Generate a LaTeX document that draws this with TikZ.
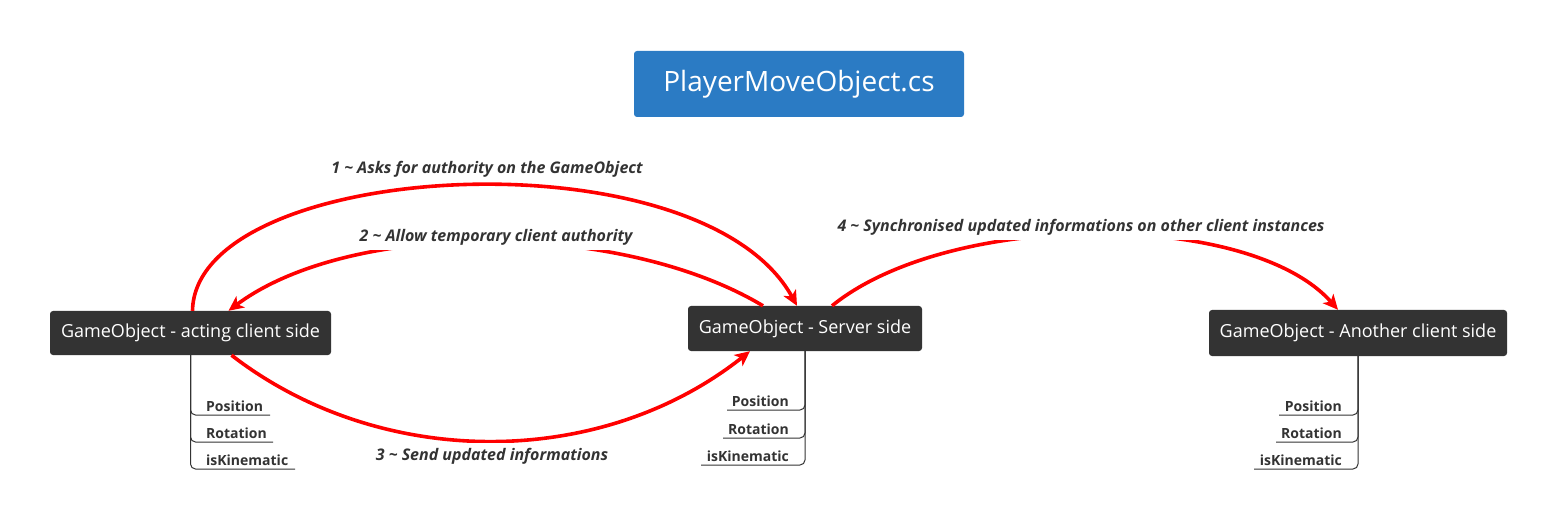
\documentclass[tikz,border=0pt]{standalone}
\usepackage{fontspec}
\setmainfont{Open Sans}
\usetikzlibrary{arrows.meta}
\definecolor{boxdark}{HTML}{333333}
\definecolor{titleblue}{HTML}{2B7BC4}
\definecolor{txtdark}{HTML}{333333}
\definecolor{arrred}{HTML}{FF0000}
\tikzset{
  gobox/.style={fill=boxdark, text=white, rounded corners=3pt, inner sep=0pt,
    font=\fontsize{18}{20}\selectfont},
  titlebox/.style={fill=titleblue, text=white, rounded corners=3pt, inner sep=0pt,
    minimum width=330, minimum height=66, font=\fontsize{28}{32}\selectfont},
  item/.style={text=txtdark, inner sep=1pt, font=\bfseries\fontsize{14}{16}\selectfont},
  branch/.style={draw=boxdark, line width=1pt, rounded corners=5pt},
  flow/.style={draw=arrred, line width=3.6pt, -{Stealth[length=15pt,width=14pt,inset=4pt]}},
  flowlabel/.style={text=txtdark, fill=white, inner xsep=4pt, inner ysep=5pt,
    font=\bfseries\itshape\fontsize{16}{18}\selectfont},
}
\begin{document}
\begin{tikzpicture}[x=1pt,y=-1pt]
\useasboundingbox (0,0) rectangle (1558,521);
% nodes
\node[titlebox] (T) at (799,84) {PlayerMoveObject.cs};
\node[gobox, minimum width=281, minimum height=44] (A) at (190.5,333) {GameObject - acting client side};
\node[gobox, minimum width=234, minimum height=45] (B) at (805,328.5) {GameObject - Server side};
\node[gobox, minimum width=298, minimum height=46] (C) at (1358,333) {GameObject - Another client side};

% items of A
\coordinate (a1) at (270,415);
\coordinate (a2) at (273,442);
\coordinate (a3) at (295,469);
\node[item, anchor=south west] (ap) at (205,413) {Position};
\node[item, anchor=south west] (ar) at (205,440) {Rotation};
\node[item, anchor=south west] (ak) at (205,467) {isKinematic};
\draw[branch] (A.south) |- (a1);
\draw[branch] (A.south) |- (a2);
\draw[branch] (A.south) |- (a3);

% items of B
\coordinate (b1) at (727,410);
\coordinate (b2) at (723,438);
\coordinate (b3) at (701,465);
\node[item, anchor=south east] (bp) at (790,408) {Position};
\node[item, anchor=south east] (br) at (790,436) {Rotation};
\node[item, anchor=south east] (bk) at (790,463) {isKinematic};
\draw[branch] (B.south) |- (b1);
\draw[branch] (B.south) |- (b2);
\draw[branch] (B.south) |- (b3);

% items of C
\coordinate (c1) at (1279,415);
\coordinate (c2) at (1276,442);
\coordinate (c3) at (1254,469);
\node[item, anchor=south east] (cp) at (1343,413) {Position};
\node[item, anchor=south east] (cr) at (1343,440) {Rotation};
\node[item, anchor=south east] (ck) at (1343,467) {isKinematic};
\draw[branch] (C.south) |- (c1);
\draw[branch] (C.south) |- (c2);
\draw[branch] (C.south) |- (c3);

% flows
\draw[flow] ([xshift=2pt]A.north) .. controls (195,160) and (700,130) .. ([xshift=-8pt]B.north);
\draw[flow] ([xshift=-42pt]B.north) .. controls (620,220) and (350,220) .. ([xshift=38pt]A.north);
\draw[flow] ([xshift=41pt]A.south) .. controls (380,470) and (600,470) .. ([xshift=-55pt]B.south);
\draw[flow] ([xshift=27pt]B.north) .. controls (950,210) and (1250,210) .. ([xshift=-20pt]C.north);

% labels
\node[flowlabel] (l1) at (487,169) {1 \textasciitilde{} Asks for authority on the GameObject};
\node[flowlabel] (l2) at (496,237) {2 \textasciitilde{} Allow temporary client authority};
\node[flowlabel] (l3) at (492,456) {3 \textasciitilde{} Send updated informations};
\node[flowlabel] (l4) at (1081,227) {4 \textasciitilde{} Synchronised updated informations on other client instances};
\end{tikzpicture}
\end{document}
